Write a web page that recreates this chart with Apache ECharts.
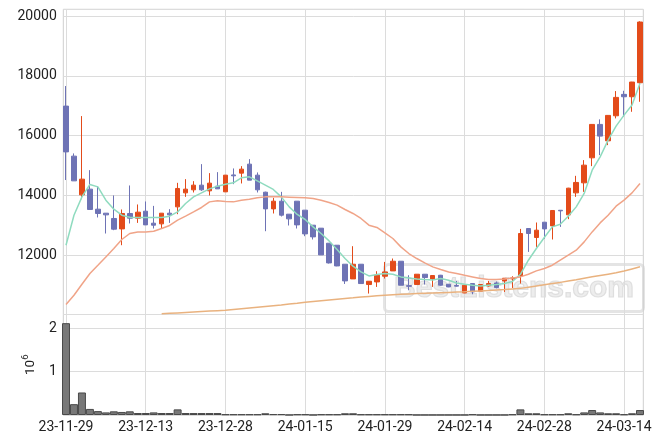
<!DOCTYPE html>
<html><head><meta charset="utf-8">
<script src="https://cdn.jsdelivr.net/npm/echarts@6/dist/echarts.min.js"></script>
<style>html,body{margin:0;padding:0;background:#fff}#c{width:663px;height:444px}</style>
</head><body><div id="c"></div>
<script>
const dates = ["23-11-29","23-11-30","23-12-01","23-12-04","23-12-05","23-12-06","23-12-07","23-12-08","23-12-11","23-12-12",
"23-12-13","23-12-14","23-12-15","23-12-18","23-12-19","23-12-20","23-12-21","23-12-22","23-12-26","23-12-27",
"23-12-28","24-01-02","24-01-03","24-01-04","24-01-05","24-01-08","24-01-09","24-01-10","24-01-11","24-01-12",
"24-01-15","24-01-16","24-01-17","24-01-18","24-01-19","24-01-22","24-01-23","24-01-24","24-01-25","24-01-26",
"24-01-29","24-01-30","24-01-31","24-02-01","24-02-02","24-02-05","24-02-06","24-02-07","24-02-08","24-02-13",
"24-02-14","24-02-15","24-02-16","24-02-19","24-02-20","24-02-21","24-02-22","24-02-23","24-02-26","24-02-27",
"24-02-28","24-02-29","24-03-04","24-03-05","24-03-06","24-03-07","24-03-08","24-03-11","24-03-12","24-03-13",
"24-03-14","24-03-15","24-03-18"];
const opens = [16990,15318,14024,14215,13546,13412,13235,12887,13402,13245,
13479,13078,13055,13412,13623,14091,14192,14349,14158,14315,
14125,14690,14750,15051,14683,14114,13556,13813,13379,13813,
13513,13011,12911,12409,12342,11707,11216,11707,11028,11115,
11306,11483,11807,10990,11028,11373,11216,11339,11038,10995,
10747,11061,10804,10981,11082,11149,11216,11316,12900,12600,
13111,12987,13510,13356,14091,14426,15262,16378,15830,16666,
17382,17302,17770];
const closes = [15460,14492,14549,13536,13402,13356,12877,13402,13245,13446,
13021,13011,13412,13356,14238,14215,14349,14192,14416,14225,
14683,14660,14884,14516,14192,13556,13813,13345,13222,13021,
12720,12620,12018,11750,11650,11149,11707,11061,11138,11339,
11450,11807,11005,10970,11373,11262,11329,11005,10948,10975,
11005,10781,11028,11061,10927,11239,11250,12733,12733,12844,
12887,13502,13490,14248,14439,15017,16378,15987,16679,17281,
17302,17793,19799];
const lows = [14520,14492,13880,13536,13269,12733,12844,12342,13068,13088,
13021,12900,12887,13088,13379,13957,14104,14158,14004,14225,
14125,14382,14405,14516,14104,12810,13402,13302,13001,12900,
12643,12533,12018,11730,11640,11048,11216,11061,10727,10948,
11228,11483,11005,10837,11028,11028,10948,10990,10940,10960,
10740,10704,10790,10960,10900,10781,10914,11061,12118,12285,
12553,12533,12955,13212,13957,14125,14984,15352,15686,16579,
16633,16800,17134];
const highs = [17660,15409,16656,14850,14315,13412,14004,13536,14338,13703,
13803,13656,13412,13546,14426,14549,14482,15051,14750,14783,
14683,14907,14984,15218,14773,14130,13924,14125,13379,13813,
13513,13011,12911,12409,12342,11707,12309,11707,11140,11473,
11784,11897,11807,11339,11373,11380,11330,11350,11040,11149,
11010,11061,11040,11149,11130,11240,11306,12887,12900,13101,
13111,13502,13510,14260,14660,15185,16390,16546,16690,17492,
17502,17800,19823];
const ma5 = [12342,13345,13957,14372,14292,13847,13546,13345,13279,13268,
13268,13268,13268,13312,13456,13737,13957,14091,14225,14315,
14382,14427,14594,14627,14492,14349,14205,13957,13623,13369,
13201,12954,12733,12486,12198,11897,11640,11450,11316,11363,
11396,11373,11283,11250,11216,11195,11183,11228,11172,11082,
11038,11005,10981,11005,11028,11061,11130,11370,11840,12232,
12600,12954,13044,13312,13623,14071,14850,15295,15853,16322,
16689,17024,17750];
const ma20 = [10359,10670,11038,11396,11673,11951,12232,12533,12733,12787,
12787,12810,12900,13001,13178,13312,13456,13603,13790,13824,
13803,13790,13847,13880,13924,13957,13957,13957,13946,13935,
13924,13902,13847,13770,13680,13536,13402,13235,13011,12934,
12754,12566,12286,12064,11897,11750,11617,11530,11450,11396,
11339,11283,11228,11195,11195,11216,11250,11283,11373,11484,
11563,11673,11841,12008,12175,12453,12787,13088,13345,13646,
13847,14091,14405];
const ma60 = [null,null,null,null,null,null,null,null,null,null,
null,null,10050,10065,10080,10095,10110,10125,10140,10155,
10170,10195,10220,10245,10270,10295,10320,10345,10375,10405,
10440,10465,10490,10515,10540,10565,10585,10610,10630,10650,
10670,10685,10700,10715,10725,10735,10745,10755,10765,10775,
10785,10800,10815,10830,10845,10860,10880,10900,10940,10980,
11020,11060,11100,11150,11190,11240,11285,11330,11375,11420,
11480,11550,11620];
const volumes = [2120000,250000,520000,140000,90000,60000,85000,70000,85000,46000,
46000,60000,46000,46000,130000,46000,45000,45000,45000,45000,
15000,15000,15000,15000,15000,40000,20000,20000,2000,15000,
15000,2000,15000,15000,15000,40000,40000,15000,15000,15000,
15000,15000,15000,15000,2000,2000,2000,2000,2000,2000,
2000,15000,2000,2000,2000,2000,15000,130000,40000,40000,
15000,15000,15000,40000,15000,60000,115000,60000,40000,40000,
15000,40000,115000];
const priceTicks = [12000,14000,16000,18000,20000];
const volTicks = [1000000,2000000];

const UP = '#e34b1a', DOWN = '#6e73b5';
const GRID_C = '#dcdcdc';
const FONT = 'Roboto';
const chart = echarts.init(document.getElementById('c'));
const PT = 9.3, PH = 305.2, VT = 314.5, VH = 100.5;
const FL = 63.3, FW = 580, DL = 66, DW = 574;
const PMIN = 10027, PMAX = 20224, VMAX = 2320000;

chart.setOption({
  animation: false,
  backgroundColor: '#fff',
  grid: [
    {left: FL, top: PT, width: FW, height: PH, show: true, borderColor: '#cfcfcf', borderWidth: 1},
    {left: FL, top: VT, width: FW, height: VH, show: true, borderColor: '#cfcfcf', borderWidth: 1},
    {left: DL, top: PT, width: DW, height: PH},
    {left: DL, top: VT, width: DW, height: VH}
  ],
  xAxis: [
    {type: 'value', gridIndex: 0, show: false},
    {type: 'value', gridIndex: 1, show: false},
    {type: 'category', gridIndex: 2, data: dates, boundaryGap: false,
      axisLine: {show: false}, axisTick: {show: false}, axisLabel: {show: false},
      splitLine: {show: true, interval: 9, lineStyle: {color: GRID_C, width: 1}}},
    {type: 'category', gridIndex: 3, data: dates, boundaryGap: false,
      axisLine: {show: false}, axisTick: {show: false},
      axisLabel: {show: true, interval: 9, margin: 5, color: '#222', fontFamily: FONT, fontSize: 14},
      splitLine: {show: true, interval: 9, lineStyle: {color: GRID_C, width: 1}}}
  ],
  yAxis: [
    {type: 'value', gridIndex: 0, min: PMIN, max: PMAX, splitNumber: 5,
      axisLine: {show: false}, axisTick: {show: false},
      axisLabel: {margin: 6.5, color: '#222', fontFamily: FONT, fontSize: 14,
        formatter: v => priceTicks.includes(v) ? String(v) : ''},
      splitLine: {show: true, lineStyle: {color: GRID_C, width: 1}}},
    {type: 'value', gridIndex: 1, min: 0, max: VMAX, interval: 1000000,
      axisLine: {show: false}, axisTick: {show: false},
      axisLabel: {margin: 6.5, color: '#222', fontFamily: FONT, fontSize: 14,
        formatter: v => volTicks.includes(v) ? String(v / 1000000) : ''},
      splitLine: {show: true, lineStyle: {color: GRID_C, width: 1}},
      name: '{a|10}{b|6}', nameLocation: 'middle', nameRotate: 90, nameGap: 21,
      nameTextStyle: {color: '#222', fontFamily: FONT,
        rich: {a: {fontSize: 13.5, fontFamily: FONT, color: '#222', lineHeight: 20},
               b: {fontSize: 9.5, fontFamily: FONT, color: '#222', verticalAlign: 'top', lineHeight: 10}}}},
    {type: 'value', gridIndex: 2, min: PMIN, max: PMAX, show: false, splitLine: {show: false}},
    {type: 'value', gridIndex: 3, min: 0, max: VMAX, show: false, splitLine: {show: false}}
  ],
  graphic: [{
    type: 'group', left: 383, top: 263, z: 100,
    children: [
      {type: 'rect', shape: {x: 0, y: 0, width: 259, height: 47, r: 4},
        style: {fill: 'rgba(255,255,255,0.1)', stroke: 'rgba(205,205,205,0.55)', lineWidth: 3}},
      {type: 'text', x: 129.5, y: 24, style: {text: 'BestListens.com', fontFamily: 'Liberation Sans', fontWeight: 'bold', fontSize: 30,
        fill: 'rgba(220,220,220,0.5)', stroke: 'rgba(195,195,195,0.5)', lineWidth: 1.2, align: 'center', verticalAlign: 'middle'}}
    ]
  }],
  series: [
    {type: 'candlestick', xAxisIndex: 2, yAxisIndex: 2, barWidth: 5, clip: false,
      data: dates.map((d, i) => [opens[i], closes[i], lows[i], highs[i]]),
      itemStyle: {color: UP, color0: DOWN, borderColor: UP, borderColor0: DOWN, borderWidth: 1}},
    {type: 'line', name: 'MA5', xAxisIndex: 2, yAxisIndex: 2, data: ma5, showSymbol: false,
      lineStyle: {color: '#8fdbbf', width: 1.5}, z: 3},
    {type: 'line', name: 'MA20', xAxisIndex: 2, yAxisIndex: 2, data: ma20, showSymbol: false,
      lineStyle: {color: '#f0a488', width: 1.5}, z: 3},
    {type: 'line', name: 'MA60', xAxisIndex: 2, yAxisIndex: 2, data: ma60, showSymbol: false,
      lineStyle: {color: '#e9b27f', width: 1.5}, z: 3},
    {type: 'bar', xAxisIndex: 3, yAxisIndex: 3, data: volumes, barCategoryGap: '0%', clip: false,
      itemStyle: {color: '#787878', borderColor: '#4a4a4a', borderWidth: 1}}
  ]
});
</script></body></html>
